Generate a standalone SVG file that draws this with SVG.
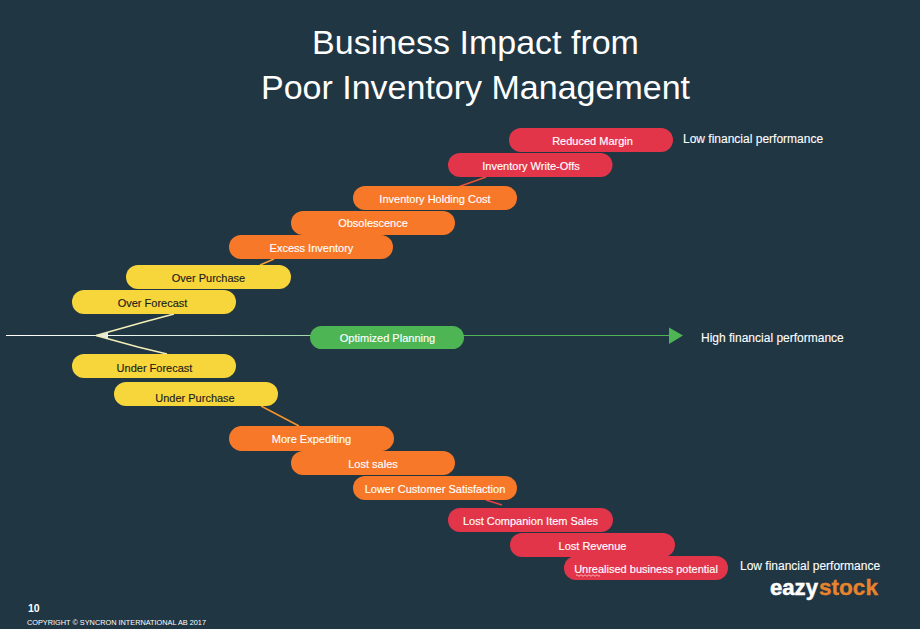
<svg xmlns="http://www.w3.org/2000/svg" width="920" height="629" viewBox="0 0 920 629">
<defs>
<linearGradient id="ax" gradientUnits="userSpaceOnUse" x1="6" y1="0" x2="670" y2="0">
<stop offset="0" stop-color="#ffffff"/><stop offset="0.3" stop-color="#dff0df"/><stop offset="0.5" stop-color="#8fd09a"/><stop offset="0.7" stop-color="#4db553"/><stop offset="1" stop-color="#4db553"/>
</linearGradient>
</defs>
<style>
text{font-family:"Liberation Sans",Arial,sans-serif}
.pill{stroke:none}
.y{fill:#f6d63b}.o{fill:#f67828}.r{fill:#e3354a}.g{fill:#4db553}
.l{font-size:11px;text-anchor:middle;fill:#fff;font-weight:400;stroke:#fff;stroke-width:.15px}
.d{fill:#1c1c1c;stroke:#1c1c1c}
.t{font-size:34px;fill:#fff;text-anchor:middle}
.n{font-size:12px;fill:#fff;stroke:#fff;stroke-width:.1px}
</style>
<rect width="920" height="629" fill="#213643"/>
<text class="t" x="475.500" y="54">Business Impact from</text>
<text class="t" x="475.500" y="99">Poor Inventory Management</text>
<g id="connectors" fill="none">
<path d="M6 335.500H670" stroke="url(#ax)" stroke-width="1"/>
<path d="M96 335.500L144 322L174 314" stroke="#f3eeb8" stroke-width="1.500"/>
<path d="M96 335.500L138 347L167 354" stroke="#f3eeb8" stroke-width="1.500"/>
<path d="M97 335.500L108 332.500V338.500Z" fill="#e9ecd8"/>
<path d="M261 406L299 426" stroke="#f6932c" stroke-width="1.500"/>
<path d="M486 500L502 505" stroke="#ea4040" stroke-width="1.500"/>
<path d="M458 187L486 177" stroke="#ee5234" stroke-width="1.500"/>
<path d="M260 265L274 259" stroke="#f6a030" stroke-width="1.500"/>
<path d="M669 327.500L683 335.500L669 344Z" fill="#4db553"/>
</g>
<g id="n-reduced-margin"><rect class="pill r" x="509" y="128" width="164" height="24" rx="12"/><text class="l" x="592.500" y="145">Reduced Margin</text></g>
<g id="n-write-offs"><rect class="pill r" x="448" y="153" width="164.500" height="24" rx="12"/><text class="l" x="531" y="170">Inventory Write-Offs</text></g>
<g id="n-holding-cost"><rect class="pill o" x="353" y="186" width="164" height="24" rx="12"/><text class="l" x="435" y="203">Inventory Holding Cost</text></g>
<g id="n-obsolescence"><rect class="pill o" x="291" y="211" width="164" height="24" rx="12"/><text class="l" x="373" y="227">Obsolescence</text></g>
<g id="n-excess"><rect class="pill o" x="229" y="235" width="164" height="24" rx="12"/><text class="l" x="311.500" y="252">Excess Inventory</text></g>
<g id="n-over-purchase"><rect class="pill y" x="126" y="265" width="165" height="24" rx="12"/><text class="l d" x="208.500" y="282">Over Purchase</text></g>
<g id="n-over-forecast"><rect class="pill y" x="72" y="290" width="164" height="24" rx="12"/><text class="l d" x="152.500" y="307">Over Forecast</text></g>
<g id="n-optimized"><rect class="pill g" x="310" y="326" width="154" height="23" rx="11.500"/><text class="l" x="387.500" y="342">Optimized Planning</text></g>
<g id="n-under-forecast"><rect class="pill y" x="72" y="354" width="164" height="24" rx="12"/><text class="l d" x="154.500" y="372">Under Forecast</text></g>
<g id="n-under-purchase"><rect class="pill y" x="114" y="382" width="164" height="24" rx="12"/><text class="l d" x="195" y="402">Under Purchase</text></g>
<g id="n-expediting"><rect class="pill o" x="229" y="426" width="165" height="25" rx="12.500"/><text class="l" x="311.500" y="443">More Expediting</text></g>
<g id="n-lost-sales"><rect class="pill o" x="291" y="451" width="164" height="24" rx="12"/><text class="l" x="373" y="468">Lost sales</text></g>
<g id="n-satisfaction"><rect class="pill o" x="353" y="476" width="164" height="24" rx="12"/><text class="l" x="435" y="493">Lower Customer Satisfaction</text></g>
<g id="n-companion"><rect class="pill r" x="448" y="508" width="165" height="24" rx="12"/><text class="l" x="530.500" y="525">Lost Companion Item Sales</text></g>
<g id="n-lost-revenue"><rect class="pill r" x="510" y="533" width="165" height="24" rx="12"/><text class="l" x="592.500" y="550">Lost Revenue</text></g>
<g id="n-unrealised"><rect class="pill r" x="564" y="556" width="164" height="24" rx="12"/><text class="l" x="646" y="573">Unrealised business potential</text><path d="M576 575.500q1 -1.500 2 0t2 0t2 0t2 0t2 0t2 0t2 0t2 0t2 0t2 0t2 0t2 0" fill="none" stroke="#f4b0b8" stroke-width="1"/></g>
<text class="n" x="683" y="143">Low financial performance</text>
<text class="n" x="701" y="342">High financial performance</text>
<text class="n" x="740" y="570">Low financial performance</text>
<text x="770" y="595" font-size="22" font-weight="700" fill="#fff" stroke="#fff" stroke-width=".5" textLength="48" lengthAdjust="spacingAndGlyphs">eazy</text>
<text x="819" y="595" font-size="22" font-weight="700" fill="#e8842c" stroke="#e8842c" stroke-width=".3" textLength="59" lengthAdjust="spacingAndGlyphs">stock</text>
<text x="28" y="612" font-size="10.500" font-weight="700" fill="#fff">10</text>
<text x="27" y="625" font-size="7.200" fill="#fff" textLength="179" lengthAdjust="spacingAndGlyphs">COPYRIGHT © SYNCRON INTERNATIONAL AB 2017</text>
</svg>
